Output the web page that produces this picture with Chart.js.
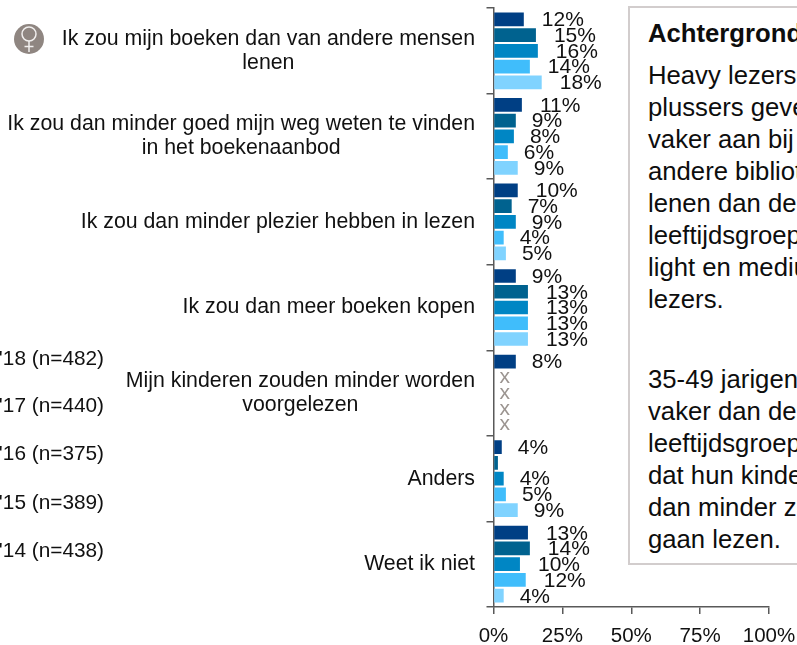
<!DOCTYPE html>
<html>
<head>
<meta charset="utf-8">
<script src="https://cdn.jsdelivr.net/npm/chart.js@4"></script>
<style>
html, body { margin: 0; padding: 0; background: #fff; overflow: hidden; }
#wrap { position: relative; width: 797px; height: 645px; overflow: hidden; }
#panel {
    position: absolute; left: 628px; top: 6px; width: 200px; height: 555px;
    border: 2px solid #d2cdcd; background: #fff; box-sizing: content-box;
    font: 25.7px/32px "Liberation Sans", Arial, sans-serif; color: #0d0d0d; white-space: nowrap;
}
#panel div { position: absolute; left: 18px; }
</style>
</head>
<body>
<div id="wrap">
    <canvas id="myChart" width="797" height="645"></canvas>
    <div id="panel"></div>
</div>
<script>
var categories = [
    ['Ik zou mijn boeken dan van andere mensen', 'lenen'],
    ['Ik zou dan minder goed mijn weg weten te vinden', 'in het boekenaanbod'],
    ['Ik zou dan minder plezier hebben in lezen'],
    ['Ik zou dan meer boeken kopen'],
    ['Mijn kinderen zouden minder worden', 'voorgelezen'],
    ['Anders'],
    ['Weet ik niet']
];
var seriesNames = ["'18 (n=482)", "'17 (n=440)", "'16 (n=375)", "'15 (n=389)", "'14 (n=438)"];
var seriesColors = ['#003f84', '#00628f', '#0086c4', '#40bdfb', '#80d3ff'];

var values18 = [11.0, 10.3, 8.8, 8.1, 8.1, 3.0, 12.5];
var values17 = [15.4, 8.1, 6.6, 12.5, null, 1.6, 13.2];
var values16 = [16.1, 7.4, 8.1, 12.5, null, 3.7, 9.6];
var values15 = [13.2, 5.2, 3.7, 12.5, null, 4.5, 11.7];
var values14 = [17.5, 8.8, 4.5, 12.5, null, 8.8, 3.7];

var labels18 = ['12%', '11%', '10%', '9%', '8%', '4%', '13%'];
var labels17 = ['15%', '9%', '7%', '13%', 'x', '', '14%'];
var labels16 = ['16%', '8%', '9%', '13%', 'x', '4%', '10%'];
var labels15 = ['14%', '6%', '4%', '13%', 'x', '5%', '12%'];
var labels14 = ['18%', '9%', '5%', '13%', 'x', '9%', '4%'];

var xTicks = [0, 25, 50, 75, 100];

var allValues = [values18, values17, values16, values15, values14];
var allLabels = [labels18, labels17, labels16, labels15, labels14];

var panelLines = [
    ['Achtergrond', 33, true],
    ['Heavy lezers en', 75], ['plussers geven', 107], ['vaker aan bij', 139], ['andere bibliotheken', 171],
    ['lenen dan de', 203], ['leeftijdsgroepen', 235], ['light en medium', 267], ['lezers.', 299],
    ['35-49 jarigen', 379], ['vaker dan de', 411], ['leeftijdsgroepen', 443], ['dat hun kinderen', 475],
    ['dan minder zelf', 507], ['gaan lezen.', 539]
];

var panel = document.getElementById('panel');
panelLines.forEach(function (l) {
    var d = document.createElement('div');
    d.textContent = l[0];
    d.style.top = (l[1] - 16 - 8) + 'px';
    if (l[2]) d.style.fontWeight = 'bold';
    panel.appendChild(d);
});

var FONT = '"Liberation Sans", Arial, sans-serif';

// labels, legend text and icon are not standard Chart.js placement here
var extras = {
    id: 'extras',
    afterDraw: function (chart) {
        var c = chart.ctx;
        var yScale = chart.scales.y;
        c.save();

        // category labels, lines centred on each other, block right aligned
        c.font = '21.3px ' + FONT;
        c.fillStyle = '#111';
        c.textBaseline = 'middle';
        c.textAlign = 'center';
        categories.forEach(function (lines, i) {
            var w = 0;
            lines.forEach(function (t) { w = Math.max(w, c.measureText(t).width); });
            var cx = 475 - w / 2;
            var y0 = yScale.getPixelForTick(i) - (lines.length - 1) * 12;
            lines.forEach(function (t, j) { c.fillText(t, cx, y0 + j * 24); });
        });

        // legend, swatches fall off the picture
        c.font = '20.8px ' + FONT;
        c.textAlign = 'right';
        var legendY = [359, 406, 454, 503, 551];
        seriesNames.forEach(function (n, i) { c.fillText(n, 104, legendY[i]); });

        // value labels
        c.font = '21px ' + FONT;
        c.textAlign = 'left';
        allLabels.forEach(function (labels, ds) {
            var meta = chart.getDatasetMeta(ds);
            labels.forEach(function (t, i) {
                if (!t) return;
                var el = meta.data[i];
                if (t === 'x') {
                    c.fillStyle = '#9c9591';
                    c.fillText(t, chart.scales.x.getPixelForValue(0) + 6, el.y);
                } else {
                    c.fillStyle = '#111';
                    c.fillText(t, el.x + (t.length > 2 ? 18 : 16), el.y + 1);
                }
            });
        });

        // female icon
        c.fillStyle = '#8f8681';
        c.beginPath(); c.arc(29, 39, 15, 0, Math.PI * 2); c.fill();
        c.strokeStyle = '#f1efee';
        c.lineWidth = 1.5;
        c.beginPath(); c.arc(29, 34, 7, 0, Math.PI * 2); c.stroke();
        c.beginPath();
        c.moveTo(29, 41); c.lineTo(29, 52);
        c.moveTo(24.5, 46.5); c.lineTo(33.5, 46.5);
        c.stroke();
        c.restore();
    }
};

var ctx = document.getElementById('myChart').getContext('2d');
var myChart = new Chart(ctx, {
    type: 'bar',
    data: {
        labels: categories,
        datasets: seriesNames.map(function (n, i) {
            return {
                label: n,
                data: allValues[i],
                backgroundColor: seriesColors[i],
                categoryPercentage: 0.92,
                barPercentage: 0.87
            };
        })
    },
    options: {
        indexAxis: 'y',
        responsive: false,
        animation: false,
        layout: { padding: { top: 8, right: 28, left: 0, bottom: 0 } },
        plugins: { legend: { display: false }, tooltip: { enabled: false } },
        scales: {
            x: {
                min: 0,
                max: 100,
                afterBuildTicks: function (s) { s.ticks = xTicks.map(function (v) { return { value: v }; }); },
                afterFit: function (s) {
                    s.height = 38;
                    s.paddingLeft = 0;
                    s.paddingRight = 0; // keep 100% at the reference position
                },
                border: { color: '#595959', width: 1.5 },
                grid: { drawOnChartArea: false, color: '#595959', lineWidth: 1.5, tickLength: 7 },
                ticks: {
                    maxRotation: 0,
                    autoSkip: false,
                    padding: 10,
                    color: '#111',
                    font: { family: FONT, size: 20.5 },
                    callback: function (v) { return v + '%'; }
                }
            },
            y: {
                afterFit: function (s) { s.width = 493.5; },
                border: { color: '#595959', width: 1.5 },
                grid: { drawOnChartArea: false, color: '#595959', lineWidth: 1.5, tickLength: 7 },
                ticks: { display: false }
            }
        }
    },
    plugins: [extras]
});
</script>
</body>
</html>
